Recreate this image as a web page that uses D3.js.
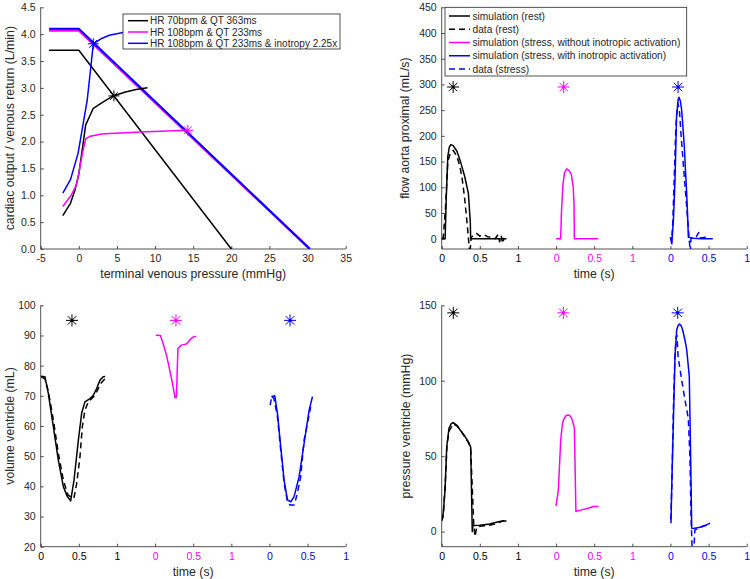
<!DOCTYPE html>
<html>
<head>
<meta charset="utf-8">
<script src="https://cdn.jsdelivr.net/npm/d3@7"></script>
<style>
  body { margin: 0; background: #fff; }
  text { font-family: "Liberation Sans", Arial, sans-serif; fill: #262626; }
</style>
</head>
<body>
<svg id="fig" width="750" height="579"></svg>
<script>
// colours of the three cases: rest, stress, stress + inotropy
const caseColors = ['#000000', '#ff00ff', '#0000ff'];
// each case gets its own 1 s window on a shared time axis
const caseOffsets = [0, 1.5, 3];

// ---- top left: cardiac output / venous return curves
const vrRestP = [-3.9, 0, 20];
const vrRestQ = [3.7, 3.7, 0];
const vrStressP = [-3.9, 0, 30.3];
const vrStressQ = [4.07, 4.07, 0];
const vrInoQ = [4.1, 4.1, 0];
const coRestP = [-2.1, -1.1, -0.5, 0, 0.5, 0.9, 1.9, 3, 4.5, 6, 7.5, 9];
const coRestQ = [0.62, 0.85, 1.1, 1.4, 1.9, 2.31, 2.62, 2.72, 2.85, 2.92, 2.97, 3.0];
const coStressP = [-2.1, -1, -0.3, 0, 0.5, 0.9, 1.5, 3, 4.1, 8, 14.3];
const coStressQ = [0.79, 1.0, 1.2, 1.41, 1.8, 2.05, 2.1, 2.14, 2.15, 2.18, 2.21];
const coInoP = [-2.1, -1.1, -0.1, 1.1, 1.9, 3, 4, 5.8, 7.5, 9];
const coInoQ = [1.04, 1.29, 1.78, 2.77, 3.82, 3.92, 3.98, 4.03, 4.08, 4.1];
const eqP = [4.6, 14.3, 1.9];
const eqQ = [2.85, 2.21, 3.82];
const coLegend = ['HR 70bpm & QT 363ms', 'HR 108bpm & QT 233ms', 'HR 108bpm & QT 233ms & inotropy 2.25x'];

// ---- top right: flow aorta proximal (mL/s)
const flowRestSimT = [0, 0.045, 0.06, 0.08, 0.1, 0.12, 0.15, 0.2, 0.25, 0.3, 0.35, 0.375, 0.38, 0.5, 0.85];
const flowRestSimV = [0, 0, 80, 160, 178, 183, 181, 170, 148, 122, 88, 32, 0, 0, 0];
const flowRestDataT = [0, 0.02, 0.05, 0.08, 0.11, 0.15, 0.2, 0.24, 0.27, 0.3, 0.33, 0.36, 0.37, 0.385, 0.42, 0.46, 0.5, 0.55, 0.6, 0.65, 0.7, 0.74, 0.76, 0.78, 0.8, 0.82];
const flowRestDataV = [0, 2, 60, 150, 165, 172, 160, 140, 115, 80, 35, -15, -30, 2, 8, 10, 5, 8, 4, 3, 0, 8, -6, 6, -9, 2];
const flowStressSimT = [0, 0.06, 0.07, 0.09, 0.11, 0.14, 0.17, 0.2, 0.225, 0.235, 0.24, 0.55];
const flowStressSimV = [0, 0, 50, 105, 128, 136, 133, 125, 100, 70, 0, 0];
const flowInoSimT = [0, 0.018, 0.04, 0.06, 0.08, 0.1, 0.112, 0.13, 0.147, 0.165, 0.182, 0.2, 0.213, 0.225, 0.235, 0.3, 0.4, 0.555];
const flowInoSimV = [3, -10, 40, 114, 237, 270, 275, 268, 250, 215, 178, 125, 88, 45, 3, 1, 0, 0];
const flowInoDataT = [0, 0.015, 0.03, 0.05, 0.07, 0.09, 0.1, 0.12, 0.14, 0.168, 0.19, 0.213, 0.235, 0.247, 0.26, 0.27, 0.3, 0.34, 0.37, 0.38, 0.39, 0.42, 0.46, 0.5];
const flowInoDataV = [3, -5, 30, 120, 215, 255, 263, 245, 200, 146, 105, 62, 20, -3, -25, 2, 3, 4, 12, 8, 2, 2, 3, -2];
const flowStarT = [0.15, 0.1, 0.1];
const flowStarV = 295;
const flowLegend = ['simulation (rest)', 'data (rest)', 'simulation (stress, without inotropic activation)', 'simulation (stress, with inotropic activation)', 'data (stress)'];

// ---- bottom left: volume ventricle (mL)
const volRestSimT = [0, 0.056, 0.1, 0.166, 0.231, 0.297, 0.35, 0.393, 0.437, 0.494, 0.537, 0.58, 0.646, 0.69, 0.734, 0.778, 0.82, 0.845];
const volRestSimV = [76.5, 76.3, 70.8, 59.7, 48.7, 39.9, 36.6, 35.2, 42.1, 55.3, 64.2, 68, 69.1, 70.2, 72.4, 75.2, 76.3, 76.4];
const volRestDataT = [0.01, 0.056, 0.1, 0.166, 0.231, 0.297, 0.36, 0.435, 0.472, 0.515, 0.546, 0.58, 0.624, 0.69, 0.734, 0.787, 0.843];
const volRestDataV = [76.3, 75.6, 71.5, 62, 51, 42, 37, 36, 41, 49.8, 59.7, 65.2, 68, 69.6, 71.3, 74.1, 75.7];
const volStressSimT = [0.01, 0.07, 0.11, 0.155, 0.22, 0.262, 0.28, 0.29, 0.3, 0.344, 0.41, 0.44, 0.475, 0.51, 0.54];
const volStressSimV = [90.1, 90, 87, 82.9, 75.2, 69.4, 69.5, 78, 85.7, 86.8, 87.2, 88, 89, 89.6, 89.7];
const volInoSimT = [0.026, 0.07, 0.105, 0.148, 0.192, 0.236, 0.28, 0.323, 0.389, 0.454, 0.52, 0.564];
const volInoSimV = [69.7, 70, 64.2, 53.1, 42.1, 35.5, 34.9, 36.6, 43.2, 54.2, 65.2, 69.7];
const volInoDataT = [0.01, 0.03, 0.06, 0.105, 0.148, 0.192, 0.236, 0.27, 0.323, 0.36, 0.41, 0.454, 0.498, 0.54];
const volInoDataV = [66.9, 70, 69, 63, 52, 41, 35, 33.8, 33.8, 37, 43.2, 55.3, 60.8, 66.3];
const volStarT = [0.41, 0.274, 0.27];
const volStarV = 95;

// ---- bottom right: pressure ventricle (mmHg)
const presRestSimT = [0, 0.02, 0.044, 0.066, 0.096, 0.125, 0.153, 0.2, 0.24, 0.306, 0.35, 0.38, 0.401, 0.41, 0.5, 0.63, 0.742, 0.8, 0.85];
const presRestSimV = [7.8, 12, 27.7, 56.4, 68.6, 71.5, 72.3, 70.5, 67.5, 63, 59.5, 56, 0, 4, 4.2, 5, 6.6, 7, 7];
const presRestDataT = [0, 0.02, 0.05, 0.07, 0.1, 0.153, 0.2, 0.25, 0.3, 0.35, 0.38, 0.4, 0.42, 0.437, 0.46, 0.5, 0.6, 0.7, 0.75, 0.8, 0.85];
const presRestDataV = [7, 10, 35, 58, 67, 71.5, 70, 67, 63, 59, 55, 30, 5, -3.3, 3, 3.5, 4, 5, 6, 7, 7];
const presStressSimT = [0, 0.03, 0.061, 0.08, 0.096, 0.13, 0.16, 0.19, 0.213, 0.24, 0.26, 0.335, 0.42, 0.49, 0.556];
const presStressSimV = [17, 27.7, 60.8, 70, 74, 76.8, 77.4, 76.5, 74, 68.6, 13.3, 14.4, 15.5, 16.6, 16.6];
const presInoSimT = [0.007, 0.016, 0.038, 0.06, 0.082, 0.1, 0.117, 0.14, 0.16, 0.19, 0.213, 0.247, 0.265, 0.279, 0.3, 0.39, 0.45, 0.52];
const presInoSimV = [5.6, 27.7, 71.9, 116, 133.8, 136.5, 137.6, 136.5, 133.8, 127, 120.6, 102.9, 49.8, 2.2, 2, 2.9, 4, 5.6];
const presInoDataT = [0.005, 0.02, 0.04, 0.06, 0.075, 0.085, 0.1, 0.147, 0.19, 0.234, 0.255, 0.27, 0.285, 0.3, 0.32, 0.36, 0.4, 0.46, 0.52];
const presInoDataV = [8, 35, 85, 118, 129, 130, 116, 100.6, 87.4, 75.2, 50, 10, -12, -20, 1, 2, 3, 4, 5];
const presStarT = [0.152, 0.095, 0.095];
const presStarV = 145;

// shared time ticks: 0..1 repeated for each case
const timeTicks = [0, 0.5, 1, 1.5, 2, 2.5, 3, 3.5, 4];
const timeTickLabels = ['0', '0.5', '1', '0', '0.5', '1', '0', '0.5', '1'];
const timeTickColors = [0, 0, 0, 1, 1, 1, 2, 2, 2];

const svg = d3.select('#fig');
const axisColor = '#262626';

function panel(opts) {
  const x = d3.scaleLinear().domain(opts.xDomain).range([opts.left, opts.right]);
  const y = d3.scaleLinear().domain(opts.yDomain).range([opts.bottom, opts.top]);
  const g = svg.append('g');

  const clipId = 'clip' + opts.id;
  g.append('clipPath').attr('id', clipId)
    .append('rect')
      .attr('x', opts.left).attr('y', opts.top)
      .attr('width', opts.right - opts.left).attr('height', opts.bottom - opts.top);

  // axes, ticks point inward as in matlab
  const xAxis = d3.axisBottom(x).tickValues(opts.xTicks).tickSize(-3).tickPadding(6)
    .tickFormat((d, i) => opts.xLabels ? opts.xLabels[i] : d);
  const xg = g.append('g').attr('transform', `translate(0,${opts.bottom})`).call(xAxis);
  const yAxis = d3.axisLeft(y).tickValues(opts.yTicks).tickSize(-3).tickPadding(5);
  const yg = g.append('g').attr('transform', `translate(${opts.left},0)`).call(yAxis);
  [xg, yg].forEach(a => {
    a.select('.domain').attr('stroke', axisColor).attr('stroke-width', 0.8)
      .attr('d', null);
    a.selectAll('.tick line').attr('stroke', axisColor).attr('stroke-width', 0.8);
    a.selectAll('.tick text').style('font-size', '10.5px')
      .style('font-family', '"Liberation Sans", Arial, sans-serif');
  });
  // plain axis lines without the end caps
  xg.select('.domain').remove();
  yg.select('.domain').remove();
  g.append('line').attr('x1', opts.left).attr('x2', opts.right)
    .attr('y1', opts.bottom).attr('y2', opts.bottom)
    .attr('stroke', axisColor).attr('stroke-width', 0.8);
  g.append('line').attr('x1', opts.left).attr('x2', opts.left)
    .attr('y1', opts.top).attr('y2', opts.bottom)
    .attr('stroke', axisColor).attr('stroke-width', 0.8);
  if (opts.xColors) {
    xg.selectAll('.tick text').style('fill', (d, i) => caseColors[opts.xColors[i]]);
  }

  g.append('text')
    .attr('x', (opts.left + opts.right) / 2).attr('y', opts.bottom + 29)
    .attr('text-anchor', 'middle').style('font-size', '12.3px')
    .text(opts.xTitle);
  g.append('text')
    .attr('transform', `translate(${opts.yTitleX},${(opts.top + opts.bottom) / 2}) rotate(-90)`)
    .attr('text-anchor', 'middle').style('font-size', '12.3px')
    .text(opts.yTitle);

  const plot = g.append('g').attr('clip-path', `url(#${clipId})`);
  return { x, y, plot };
}

function drawLine(p, xs, ys, color, dashed, width, offset) {
  const off = offset || 0;
  const pts = d3.zip(xs, ys);
  p.plot.append('path')
    .datum(pts)
    .attr('fill', 'none')
    .attr('stroke', color)
    .attr('stroke-width', width || 1.5)
    .attr('stroke-linejoin', 'round')
    .attr('stroke-dasharray', dashed ? '6,4' : null)
    .attr('d', d3.line().x(d => p.x(d[0] + off)).y(d => p.y(d[1])));
}

// matlab '*' marker: plus and cross together
function star(p, xv, yv, color, r, dot) {
  const cx = p.x(xv), cy = p.y(yv);
  const d = r * Math.SQRT1_2;
  const path = `M${cx - r},${cy}L${cx + r},${cy}M${cx},${cy - r}L${cx},${cy + r}` +
    `M${cx - d},${cy - d}L${cx + d},${cy + d}M${cx - d},${cy + d}L${cx + d},${cy - d}`;
  p.plot.append('path').attr('d', path).attr('stroke', color).attr('stroke-width', 1).attr('fill', 'none');
  if (dot) p.plot.append('circle').attr('cx', cx).attr('cy', cy).attr('r', 1.6).attr('fill', color);
}

const leftCol = [40.7, 345.7];
const rightCol = [441.7, 746.7];
const topRow = [7.3, 249];
const botRow = [305.3, 546.7];

// ---------- top left
const tl = panel({
  id: 'tl', left: leftCol[0], right: leftCol[1], top: topRow[0], bottom: topRow[1],
  xDomain: [-5, 35], yDomain: [0, 4.5],
  xTicks: d3.range(-5, 36, 5), yTicks: d3.range(0, 4.51, 0.5),
  xTitle: 'terminal venous pressure (mmHg)', yTitle: 'cardiac output / venous return (L/min)', yTitleX: 14
});
drawLine(tl, vrRestP, vrRestQ, caseColors[0], false, 1.5);
drawLine(tl, vrStressP, vrStressQ, caseColors[1], false, 2.5);
drawLine(tl, vrStressP, vrInoQ, caseColors[2], false, 2);
drawLine(tl, coRestP, coRestQ, caseColors[0], false, 1.5);
drawLine(tl, coStressP, coStressQ, caseColors[1], false, 1.5);
drawLine(tl, coInoP, coInoQ, caseColors[2], false, 1.5);
eqP.forEach((pv, i) => star(tl, pv, eqQ[i], caseColors[i], 5.5, false));

// legend top left
const lg1 = svg.append('g');
lg1.append('rect').attr('x', 123).attr('y', 14).attr('width', 217).attr('height', 35)
  .attr('fill', '#fff').attr('stroke', axisColor).attr('stroke-width', 0.8);
coLegend.forEach((t, i) => {
  const yy = 20.7 + i * 11.3;
  lg1.append('line').attr('x1', 128).attr('x2', 148).attr('y1', yy).attr('y2', yy)
    .attr('stroke', caseColors[i]).attr('stroke-width', 1.5);
  lg1.append('text').attr('x', 150).attr('y', yy + 3.6).style('font-size', '10px').text(t);
});

// ---------- top right
const tr = panel({
  id: 'tr', left: rightCol[0], right: rightCol[1], top: topRow[0], bottom: topRow[1],
  xDomain: [0, 4], yDomain: [-20, 450],
  xTicks: timeTicks, xLabels: timeTickLabels, xColors: timeTickColors, yTicks: d3.range(0, 451, 50),
  xTitle: 'time (s)', yTitle: 'flow aorta proximal (mL/s)', yTitleX: 409
});
drawLine(tr, flowRestDataT, flowRestDataV, caseColors[0], true, 1.5, caseOffsets[0]);
drawLine(tr, flowRestSimT, flowRestSimV, caseColors[0], false, 1.5, caseOffsets[0]);
drawLine(tr, flowStressSimT, flowStressSimV, caseColors[1], false, 1.5, caseOffsets[1]);
drawLine(tr, flowInoDataT, flowInoDataV, caseColors[2], true, 1.5, caseOffsets[2]);
drawLine(tr, flowInoSimT, flowInoSimV, caseColors[2], false, 1.5, caseOffsets[2]);
flowStarT.forEach((t, i) => star(tr, t + caseOffsets[i], flowStarV, caseColors[i], 6, true));

// legend top right
const lg2 = svg.append('g');
lg2.append('rect').attr('x', 445).attr('y', 7.3).attr('width', 241.7).attr('height', 68.7)
  .attr('fill', '#fff').attr('stroke', axisColor).attr('stroke-width', 0.8);
const flowLegendColor = [0, 0, 1, 2, 2];
const flowLegendDash = [false, true, false, false, true];
flowLegend.forEach((t, i) => {
  const yy = 16 + i * 13.25;
  lg2.append('line').attr('x1', 449).attr('x2', 470).attr('y1', yy).attr('y2', yy)
    .attr('stroke', caseColors[flowLegendColor[i]]).attr('stroke-width', 1.5)
    .attr('stroke-dasharray', flowLegendDash[i] ? '6,4' : null);
  lg2.append('text').attr('x', 472.5).attr('y', yy + 3.6).style('font-size', '10.2px').text(t);
});

// ---------- bottom left
const bl = panel({
  id: 'bl', left: leftCol[0], right: leftCol[1], top: botRow[0], bottom: botRow[1],
  xDomain: [0, 4], yDomain: [20, 100],
  xTicks: timeTicks, xLabels: timeTickLabels, xColors: timeTickColors, yTicks: d3.range(20, 101, 10),
  xTitle: 'time (s)', yTitle: 'volume ventricle (mL)', yTitleX: 14
});
drawLine(bl, volRestDataT, volRestDataV, caseColors[0], true, 1.5, caseOffsets[0]);
drawLine(bl, volRestSimT, volRestSimV, caseColors[0], false, 1.5, caseOffsets[0]);
drawLine(bl, volStressSimT, volStressSimV, caseColors[1], false, 1.5, caseOffsets[1]);
drawLine(bl, volInoDataT, volInoDataV, caseColors[2], true, 1.5, caseOffsets[2]);
drawLine(bl, volInoSimT, volInoSimV, caseColors[2], false, 1.5, caseOffsets[2]);
volStarT.forEach((t, i) => star(bl, t + caseOffsets[i], volStarV, caseColors[i], 6, true));

// ---------- bottom right
const br = panel({
  id: 'br', left: rightCol[0], right: rightCol[1], top: botRow[0], bottom: botRow[1],
  xDomain: [0, 4], yDomain: [-10, 150],
  xTicks: timeTicks, xLabels: timeTickLabels, xColors: timeTickColors, yTicks: [0, 50, 100, 150],
  xTitle: 'time (s)', yTitle: 'pressure ventricle (mmHg)', yTitleX: 410
});
drawLine(br, presRestDataT, presRestDataV, caseColors[0], true, 1.5, caseOffsets[0]);
drawLine(br, presRestSimT, presRestSimV, caseColors[0], false, 1.5, caseOffsets[0]);
drawLine(br, presStressSimT, presStressSimV, caseColors[1], false, 1.5, caseOffsets[1]);
drawLine(br, presInoDataT, presInoDataV, caseColors[2], true, 1.5, caseOffsets[2]);
drawLine(br, presInoSimT, presInoSimV, caseColors[2], false, 1.5, caseOffsets[2]);
presStarT.forEach((t, i) => star(br, t + caseOffsets[i], presStarV, caseColors[i], 6, true));
</script>
</body>
</html>
